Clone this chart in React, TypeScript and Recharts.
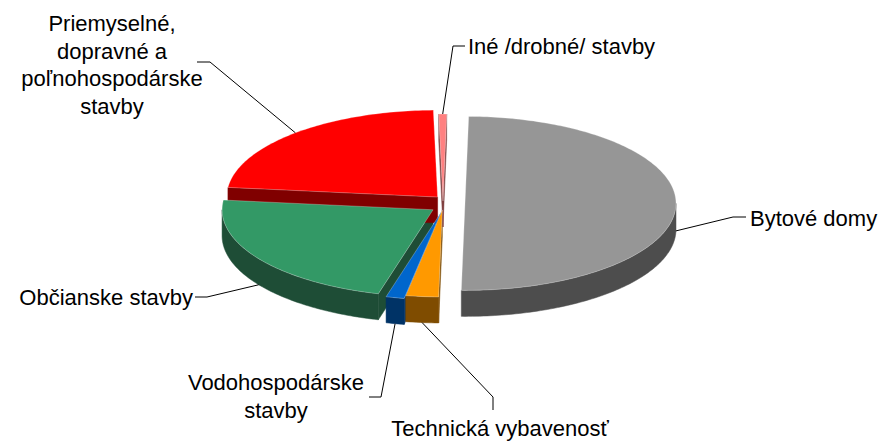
import { PieChart, Pie } from "recharts"

// slices, clockwise from 12 o'clock
const categories = [
 "Bytové domy",
 "Technická vybavenosť",
 "Vodohospodárske stavby",
 "Občianske stavby",
 "Priemyselné, dopravné a poľnohospodárske stavby",
 "Iné /drobné/ stavby"
]
const shares = [50.0, 2.5, 1.4, 22.6, 22.9, 0.6]
const labelTexts = [
 ["Bytové domy"],
 ["Technická vybavenosť"],
 ["Vodohospodárske", "stavby"],
 ["Občianske stavby"],
 ["Priemyselné,", "dopravné a", "poľnohospodárske", "stavby"],
 ["Iné /drobné/ stavby"]
]

const topColors = ["#969696", "#FF9900", "#0066CC", "#339966", "#FF0000", "#FF8080"]
const sideColors = ["#4d4d4d", "#7f4c00", "#003366", "#1e4d36", "#800000", "#804040"]
const explodeBy = [22, 7, 10, 12, 8, 2]

// label placement (text box + elbow of the leader line)
const labelBoxes = [
 { x: 750, y: 218, anchor: "start", bend: [[733, 217], [746, 217]] },
 { x: 500, y: 428, anchor: "middle", bend: [[493, 397], [493, 410]] },
 { x: 276, y: 382, anchor: "middle", bend: [[381, 397], [369, 397]] },
 { x: 193, y: 297, anchor: "end", bend: [[207, 297], [195, 297]] },
 { x: 112, y: 23, anchor: "middle", bend: [[210, 62], [197, 62]] },
 { x: 468, y: 46, anchor: "start", bend: [[453, 46], [465, 46]] }
]

const CX = 443
const CY = 203
const RX = 211
const RY = 87
const K = RY / RX
const DEPTH = 26
const FONT = "'Liberation Sans', Arial, sans-serif"

const data = categories.map((name, i) => ({ name, value: shares[i] }))

const rad = (a: number) => (a * Math.PI) / 180

function geom(p: any) {
 const name = p.payload?.name ?? p.name
 const i = categories.indexOf(name)
 const mid = (p.startAngle + p.endAngle) / 2
 const e = explodeBy[i] || 0
 const ox = p.cx + e * Math.cos(rad(mid))
 const oy = p.cy - e * Math.sin(rad(mid))
 const r = p.outerRadius
 const pt = (a: number, dz = 0) => [ox + r * Math.cos(rad(a)), oy - r * K * Math.sin(rad(a)) + dz]
 return { i, ox, oy, pt, mid }
}

function arcPts(pt: any, a1: number, a2: number, dz: number) {
 const n = Math.max(2, Math.ceil(Math.abs(a1 - a2)))
 const out: string[] = []
 for (let j = 0; j <= n; j++) {
  const [x, y] = pt(a1 + ((a2 - a1) * j) / n, dz)
  out.push(`${x.toFixed(2)},${y.toFixed(2)}`)
 }
 return out
}

function CutFaces(p: any) {
 const g = geom(p)
 const faces: string[] = []
 const quad = (a: number) => {
  const [x, y] = g.pt(a)
  return `M${g.ox},${g.oy}L${x},${y}L${x},${y + DEPTH}L${g.ox},${g.oy + DEPTH}Z`
 }
 if (Math.cos(rad(p.startAngle)) < 0) faces.push(quad(p.startAngle))
 if (Math.cos(rad(p.endAngle)) > 0) faces.push(quad(p.endAngle))
 return (
  <g>
   {faces.map((d, j) => (
    <path key={j} d={d} fill={sideColors[g.i]} stroke={sideColors[g.i]} strokeWidth={0.5} />
   ))}
  </g>
 )
}

function OuterWall(p: any) {
 const g = geom(p)
 const a1 = Math.min(p.startAngle, 0)
 const a2 = Math.max(p.endAngle, -180)
 if (a1 <= a2) return <g />
 const top = arcPts(g.pt, a1, a2, 0)
 const bottom = arcPts(g.pt, a2, a1, DEPTH)
 return (
  <path
   d={`M${top.join("L")}L${bottom.join("L")}Z`}
   fill={sideColors[g.i]}
   stroke={sideColors[g.i]}
   strokeWidth={0.5}
  />
 )
}

function TopFace(p: any) {
 const g = geom(p)
 const pts = arcPts(g.pt, p.startAngle, p.endAngle, 0)
 return (
  <path
   d={`M${g.ox},${g.oy}L${pts.join("L")}Z`}
   fill={topColors[g.i]}
   stroke="rgba(255,255,255,0.45)"
   strokeWidth={0.6}
  />
 )
}

function SliceLabel(p: any) {
 const g = geom(p)
 const box = labelBoxes[g.i]
 const front = Math.sin(rad(g.mid)) < 0
 const [sx, sy] = g.pt(g.mid, front ? DEPTH : 0)
 const lines = labelTexts[g.i]
 const pts = [[sx, sy], ...box.bend].map(q => q.join(",")).join(" ")
 return (
  <g>
   <polyline points={pts} fill="none" stroke="#000" strokeWidth={1} />
   <text
    x={box.x}
    y={box.y}
    textAnchor={box.anchor as any}
    dominantBaseline="central"
    fontFamily={FONT}
    fontSize={22}
    fill="#000"
   >
    {lines.map((t, j) => (
     <tspan key={j} x={box.x} dy={j === 0 ? 0 : 27.7}>{t}</tspan>
    ))}
   </text>
  </g>
 )
}

const pieProps = {
 data,
 dataKey: "value",
 nameKey: "name",
 cx: CX,
 cy: CY,
 outerRadius: RX,
 startAngle: 89,
 endAngle: -271,
 isAnimationActive: false,
 stroke: "none"
}

export default function App() {
 return (
  <div style={{ position: "absolute", left: 0, top: 0, background: "#fff" }}>
   <PieChart width={880} height={441} margin={{ top: 0, right: 0, bottom: 0, left: 0 }}>
    <Pie {...pieProps} shape={CutFaces} activeShape={CutFaces} inactiveShape={CutFaces} />
    <Pie {...pieProps} shape={OuterWall} activeShape={OuterWall} inactiveShape={OuterWall} />
    <Pie
     {...pieProps}
     shape={TopFace}
     activeShape={TopFace}
     inactiveShape={TopFace}
     label={SliceLabel}
     labelLine={false}
    />
   </PieChart>
  </div>
 )
}
